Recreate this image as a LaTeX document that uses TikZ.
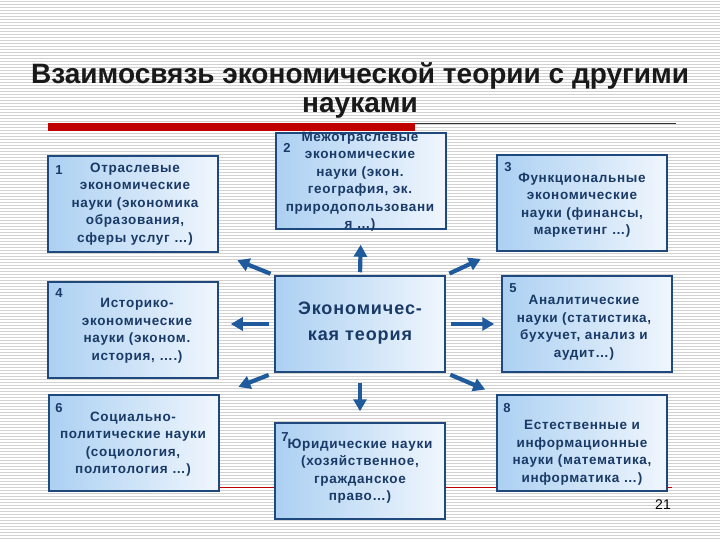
\documentclass[tikz,border=0pt]{standalone}
\usepackage{fontspec}
\setmainfont{Liberation Sans}
\newfontfamily\boxfont[LetterSpace=5]{Liberation Sans}
\usepackage{tikz}
\usetikzlibrary{arrows.meta}
\definecolor{navy}{RGB}{25,58,102}
\definecolor{frame}{RGB}{31,73,125}
\definecolor{arrblue}{RGB}{30,90,156}
\definecolor{boxdark}{RGB}{172,208,242}
\definecolor{boxlight}{RGB}{240,246,253}
\definecolor{barred}{RGB}{192,0,0}

\begin{document}
\begin{tikzpicture}[x=1pt,y=-1pt,
  box/.style={draw=frame,line width=1.5pt,left color=boxdark,right color=boxlight,
    minimum width=170pt,minimum height=96pt,inner sep=0pt},
  txt/.style={text=navy,font=\boxfont\bfseries\fontsize{13.5}{17.5}\selectfont,align=center,inner sep=0pt},
  num/.style={text=navy,font=\bfseries\fontsize{13}{13}\selectfont,inner sep=0pt},
  arr/.style={draw=arrblue,line width=4.2pt,-{Triangle[length=12pt,width=13pt]}}]
       \useasboundingbox(0,0)rectangle(720,540);
       \fill[white](0,0)rectangle(720,540);
       \foreach \y in {1,4,...,540}
         \draw[black!18,line width=0.7pt](0,\y)--(720,\y);
       \node[font=\bfseries\fontsize{28}{29}\selectfont,align=center,text=black!90](title)at(360,90)
         {Взаимосвязь экономической теории с другими\\науками};
       \fill[barred](48,123)rectangle(415,131);
       \draw[black!80,line width=1pt](415,123.5)--(676,123.5);
       \draw[barred,line width=0.8pt](48,487)--(672,487);
       \node[box](b1)at(133,204){};
       \node[box](b2)at(361,181){};
       \node[box](b3)at(582,203){};
       \node[box](b4)at(133,330){};
       \node[box](bc)at(360,324){};
       \node[box](b5)at(587,324){};
       \node[box](b6)at(134,443){};
       \node[box](b7)at(360,471){};
       \node[box](b8)at(582,443){};
       \node[txt](t1)at(135,204){Отраслевые\\экономические\\науки (экономика\\образования,\\сферы услуг …)};
       \node[txt](t2)at(360,182){Межотраслевые\\экономические\\науки (экон.\\география, эк.\\природопользовани\\я …)};
       \node[txt](t3)at(582,205){Функциональные\\экономические\\науки (финансы,\\маркетинг …)};
       \node[txt](t4)at(137,331){Историко-\\экономические\\науки (эконом.\\история, ….)};
       \node[txt](t5)at(584,328){Аналитические\\науки (статистика,\\бухучет, анализ и\\аудит…)};
       \node[txt](t6)at(133,444){Социально-\\политические науки\\(социология,\\политология …)};
       \node[txt](t7)at(360,471){Юридические науки\\(хозяйственное,\\гражданское\\право…)};
       \node[txt](t8)at(582,453){Естественные и\\информационные\\науки (математика,\\информатика …)};
       \node[txt,font=\boxfont\bfseries\fontsize{18}{26}\selectfont](tc)at(360,323){Экономичес-\\кая теория};
       \node[num](n1)at(59,170){1};
       \node[num](n2)at(287,148){2};
       \node[num](n3)at(508,167){3};
       \node[num](n4)at(59,293){4};
       \node[num](n5)at(513,288){5};
       \node[num](n6)at(59,408){6};
       \node[num](n7)at(285,437){7};
       \node[num](n8)at(507,408){8};
       \draw[arr,shorten <=4pt,shorten >=20pt](bc.north west)--(b1.south east);
       \draw[arr,shorten <=3pt,shorten >=15pt](bc.north)--(b2.south);
       \draw[arr,shorten <=4pt,shorten >=17pt](bc.north east)--(b3.south west);
       \draw[arr,shorten <=5pt,shorten >=12pt](bc.west)--(bc.west-|b4.east);
       \draw[arr,shorten <=5pt,shorten >=7pt](bc.east)--(bc.east-|b5.west);
       \draw[arr,shorten <=6pt,shorten >=20pt](bc.south west)--(b6.north east);
       \draw[arr,shorten <=10pt,shorten >=11pt](bc.south)--(b7.north);
       \draw[arr,shorten <=5pt,shorten >=12pt](bc.south east)--(b8.north west);
       \node[font=\fontsize{14}{14}\selectfont](pg)at(663,505){21};
      \end{tikzpicture}
\end{document}
